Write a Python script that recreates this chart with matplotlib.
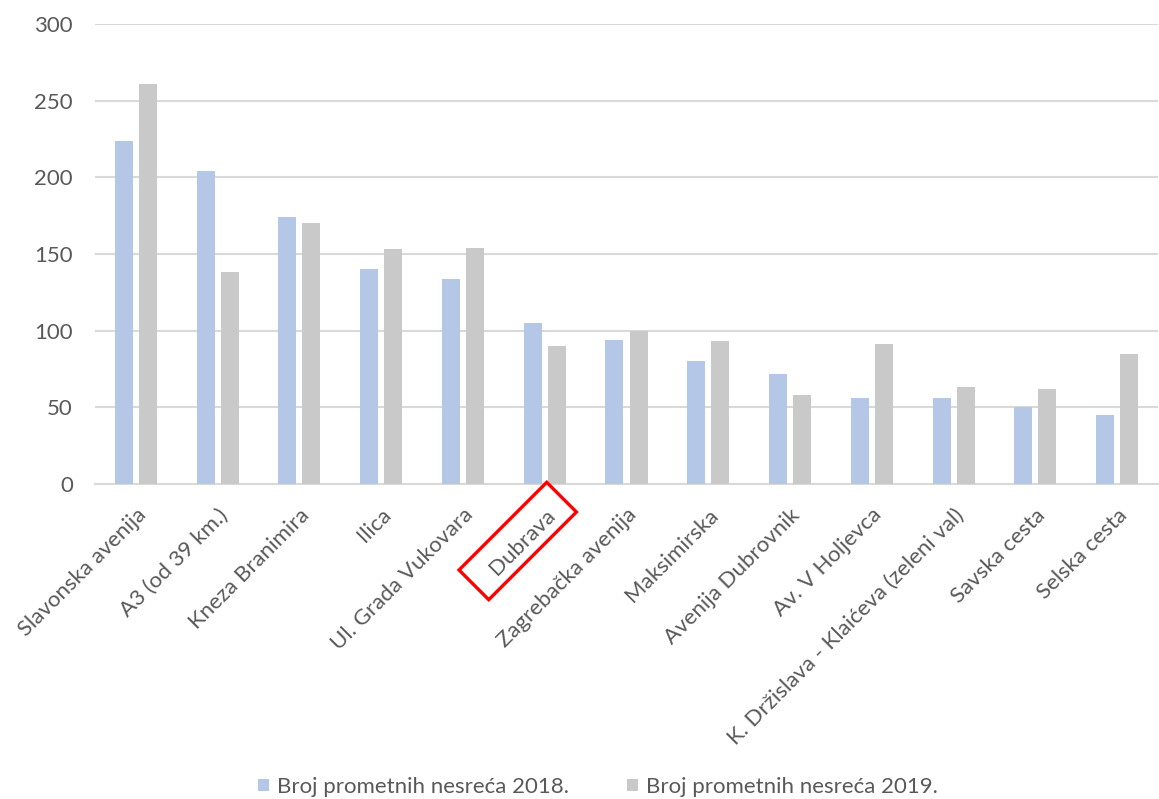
import matplotlib
matplotlib.use("Agg")
import matplotlib.pyplot as plt
from matplotlib.patches import Rectangle
from matplotlib.transforms import Affine2D
import numpy as np

streets = ["Slavonska avenija", "A3 (od 39 km.)", "Kneza Branimira", "Ilica",
           "Ul. Grada Vukovara", "Dubrava", "Zagrebačka avenija", "Maksimirska",
           "Avenija Dubrovnik", "Av. V Holjevca", "K. Držislava - Klaićeva (zeleni val)",
           "Savska cesta", "Selska cesta"]
y2018 = [224, 204, 174, 140, 134, 105, 94, 80, 72, 56, 56, 50, 45]
y2019 = [261, 138, 170, 153, 154, 90, 100, 93, 58, 91, 63, 62, 85]
yticks = [0, 50, 100, 150, 200, 250, 300]
highlight = "Dubrava"

BLUE = "#b4c7e7"
GRAY = "#c9c9c9"
GRID = "#d9d9d9"
TXT = "#595959"

plt.rcParams.update({"font.family": ["Lato", "DejaVu Sans"], "font.size": 16})

fig = plt.figure(figsize=(11.59, 7.99), dpi=100)
ax = fig.add_axes([95/1159, 1 - 484/799, 1063/1159, 460/799])

x = np.arange(len(streets))
w = 0.22
ax.bar(x - 0.147, y2018, w, color=BLUE, label="Broj prometnih nesreća 2018.", zorder=3)
ax.bar(x + 0.147, y2019, w, color=GRAY, label="Broj prometnih nesreća 2019.", zorder=3)

ax.set_xlim(-0.5, len(streets) - 0.5)
ax.set_ylim(0, 300)
ax.set_yticks(yticks)
ax.yaxis.grid(True, color=GRID, lw=1.5, zorder=0)
for s in ["top", "right", "left"]:
    ax.spines[s].set_visible(False)
ax.spines["bottom"].set_color(GRID)
ax.spines["bottom"].set_linewidth(1.5)
ax.tick_params(length=0, colors=TXT, labelsize=16)
ax.tick_params(axis="y", pad=16)
ax.set_xticks(x)
ax.set_xticklabels(streets, rotation=45, ha="right", va="top",
                   rotation_mode="anchor", color=TXT)
ax.tick_params(axis="x", pad=15)

# red box around the highlighted label
i = streets.index(highlight)
cx, cy = ax.transData.transform((i, 0))
box = Rectangle((-62, -21), 124, 42, fill=False, ec="#ff0000", lw=2.4,
                transform=Affine2D().rotate_deg(45).translate(cx - 27, cy - 57))
fig.add_artist(box)

leg = fig.legend(loc="center", bbox_to_anchor=(598/1159, 1 - 787/799), ncol=2,
                 frameon=False, handlelength=0.5, handleheight=0.5,
                 handletextpad=0.35, columnspacing=2.6, fontsize=16)
for t in leg.get_texts():
    t.set_color(TXT)

fig.savefig("out.png", dpi=100, facecolor="white")
